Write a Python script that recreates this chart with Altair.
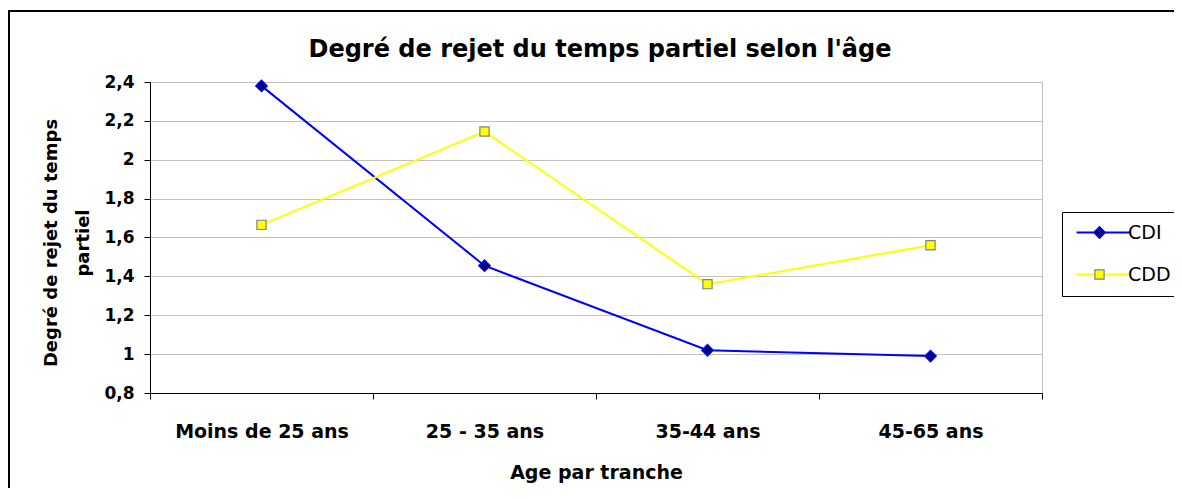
import altair as alt
import pandas as pd

ages = ["Moins de 25 ans", "25 - 35 ans", "35-44 ans", "45-65 ans"]
series = ["CDI", "CDD"]
marker_keys = ["CDI_m", "CDD_m"]
cdi = [2.38, 1.455, 1.02, 0.99]
cdd = [1.665, 2.145, 1.36, 1.56]
title_text = "Degré de rejet du temps partiel selon l'âge"
x_title = "Age par tranche"
y_title = ["Degré de rejet du temps", "partiel"]
y_ticks = [0.8, 1.0, 1.2, 1.4, 1.6, 1.8, 2.0, 2.2, 2.4]
line_colors = ["#0000ff", "#ffff00"]
marker_shapes = ["diamond", "square"]
marker_fills = ["#000080", "#ffff00"]
marker_strokes = ["#0000ff", "#808080"]
marker_sizes = [135, 85]

rows = []
for s, m, vals in zip(series, marker_keys, [cdi, cdd]):
    for i, (a, v) in enumerate(zip(ages, vals)):
        rows.append({"age": a, "serie": s, "marker": m, "value": v, "idx": i})
df = pd.DataFrame(rows)

W, H = 892, 311
FONT = "DejaVu Sans"

x_enc = alt.X(
    "age:N",
    sort=ages,
    bandPosition=0.5,
    scale=alt.Scale(type="band", domain=ages, paddingInner=0, paddingOuter=0),
    axis=alt.Axis(
        title=x_title,
        tickBand="extent",
        grid=False,
        labelAngle=0,
        domainColor="black",
        tickColor="black",
        tickSize=6,
        labelFont=FONT,
        labelFontSize=19,
        labelFontWeight="bold",
        labelColor="black",
        labelBaseline="alphabetic",
        labelPadding=38,
        titleFont=FONT,
        titleFontSize=19,
        titleFontWeight="bold",
        titleColor="black",
        titleBaseline="alphabetic",
        titleX=W / 2,
        titleY=85,
        titleAlign="center",
    ),
)
y_enc = alt.Y(
    "value:Q",
    scale=alt.Scale(domain=[0.8, 2.4], nice=False, zero=False),
    axis=alt.Axis(
        values=y_ticks,
        labelExpr="replace(format(datum.value, '.1~f'), '.', ',')",
        title=y_title,
        grid=True,
        gridColor="#c0c0c0",
        gridWidth=1,
        domainColor="black",
        tickColor="black",
        tickSize=6,
        labelPadding=10,
        labelFont=FONT,
        labelFontSize=17,
        labelFontWeight="bold",
        labelColor="black",
        titleFont=FONT,
        titleFontSize=18,
        titleFontWeight="bold",
        titleColor="black",
        titleAngle=270,
        titleAlign="center",
        titleBaseline="middle",
        titleLineHeight=32,
        titleX=-99,
        titleY=H / 2 + 5,
    ),
)

base = alt.Chart(df)

lines = base.mark_line(strokeWidth=2).encode(
    x=x_enc,
    y=y_enc,
    order=alt.Order("idx:Q"),
    color=alt.Color(
        "serie:N",
        scale=alt.Scale(domain=series, range=line_colors),
        legend=alt.Legend(
            title=None,
            orient="none",
            legendX=912,
            legendY=130,
            symbolType="M-1.2,0L9.6,0",
            symbolSize=100,
            symbolStrokeWidth=2,
            labelOffset=36,
            labelFont=FONT,
            labelFontSize=19,
            labelColor="black",
            strokeColor="black",
            padding=11,
            rowPadding=22,
        ),
    ),
)

marker_legend = alt.Legend(
    title=None,
    orient="none",
    legendX=929,
    legendY=130,
    labelFont=FONT,
    labelFontSize=19,
    labelExpr="''",
    padding=11,
    rowPadding=22,
    symbolStrokeWidth=1.2,
    symbolOpacity=1,
)

points = base.mark_point(filled=True, opacity=1, strokeWidth=1.2).encode(
    x=x_enc,
    y=y_enc,
    shape=alt.Shape("marker:N", scale=alt.Scale(domain=marker_keys, range=marker_shapes), legend=marker_legend),
    fill=alt.Fill("marker:N", scale=alt.Scale(domain=marker_keys, range=marker_fills), legend=marker_legend),
    stroke=alt.Stroke("marker:N", scale=alt.Scale(domain=marker_keys, range=marker_strokes), legend=marker_legend),
    size=alt.Size("marker:N", scale=alt.Scale(domain=marker_keys, range=marker_sizes), legend=marker_legend),
)

title_df = pd.DataFrame({"t": [title_text]})
title_mark = alt.Chart(title_df).mark_text(
    font=FONT, fontSize=24, fontWeight="bold", color="black",
    align="center", baseline="alphabetic",
).encode(x=alt.value(W / 2 + 4), y=alt.value(-25), text="t:N")

frame = alt.Chart(title_df).mark_rect(
    fill="transparent", stroke="black", strokeWidth=2
).encode(x=alt.value(-141), x2=alt.value(1200), y=alt.value(-71), y2=alt.value(700))

chart = (
    alt.layer(frame, lines, points, title_mark)
    .properties(
        width=W,
        height=H,
        autosize=alt.AutoSizeParams(type="none"),
        padding={"left": 142, "top": 74, "right": 132, "bottom": 95},
        background="white",
    )
    .configure_view(stroke="#c0c0c0", strokeWidth=1)
)

chart.save("out.html", embed_options={"renderer": "svg", "actions": False})
